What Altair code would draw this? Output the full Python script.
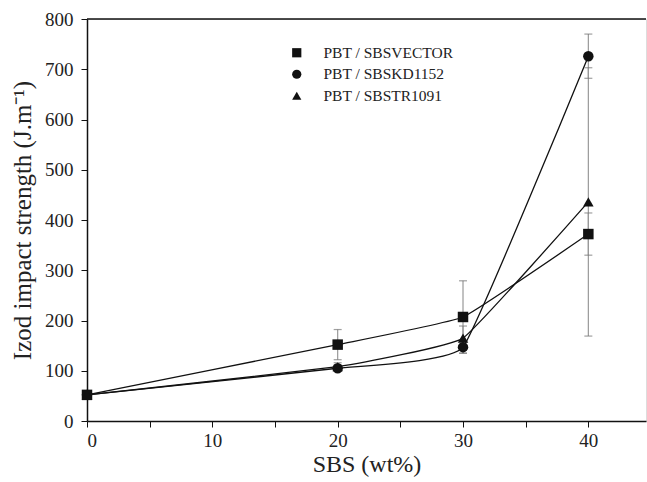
import altair as alt
import pandas as pd

x_vals = [0, 20, 30, 40]
series_names = ["PBT / SBSVECTOR", "PBT / SBSKD1152", "PBT / SBSTR1091"]
vector_vals = [52, 152, 207, 372]
vector_err = [4, 30, 72, 42]
kd_vals = [52, 105, 147, 726]
kd_err = [3, 6, 12, 44]
tr_vals = [52, 108, 165, 436]
tr_err = [3, 8, 24, 267]

rows = []
for name, vals, errs in zip(series_names, [vector_vals, kd_vals, tr_vals], [vector_err, kd_err, tr_err]):
    for x, v, e in zip(x_vals, vals, errs):
        rows.append({"x": x, "y": v, "lo": v - e, "hi": v + e, "series": name})
df = pd.DataFrame(rows)

FONT = "Liberation Serif"
xscale = alt.Scale(domain=[0, 44.6], nice=False, zero=False)
yscale = alt.Scale(domain=[0, 800], nice=False)

base = alt.Chart(df)

xaxis = alt.Axis(values=[0, 5, 10, 15, 20, 25, 30, 35, 40],
                 labelExpr="datum.value % 10 == 0 ? datum.label : ''",
                 title="SBS (wt%)", grid=False, tickSize=6, labelPadding=4,
                 labelFont=FONT, labelFontSize=19, titleFont=FONT, titleFontSize=24,
                 titleFontWeight="normal", titlePadding=2, domainColor="#111",
                 tickColor="#111", labelColor="#222", titleColor="#222", domainWidth=1.5)
yaxis = alt.Axis(values=list(range(0, 801, 100)), title="Izod impact strength (J.m⁻¹)",
                 grid=False, tickSize=6, labelPadding=8,
                 labelFont=FONT, labelFontSize=19, titleFont=FONT, titleFontSize=25,
                 titleFontWeight="normal", titlePadding=9, domainColor="#111",
                 tickColor="#111", labelColor="#222", titleColor="#222", domainWidth=1.5)

lines = base.mark_line(interpolate="cardinal", tension=0.7, color="#111", strokeWidth=1.3).encode(
    x=alt.X("x:Q", scale=xscale, axis=xaxis),
    y=alt.Y("y:Q", scale=yscale, axis=yaxis),
    detail="series:N",
)

err = base.mark_rule(color="#999", strokeWidth=1.2).encode(
    x="x:Q", y="lo:Q", y2="hi:Q")
cap_lo = base.mark_tick(orient="horizontal", color="#777", size=8, thickness=1.2).encode(
    x="x:Q", y="lo:Q")
cap_hi = base.mark_tick(orient="horizontal", color="#777", size=8, thickness=1.2).encode(
    x="x:Q", y="hi:Q")

points = base.mark_point(filled=True, opacity=1, color="#111").encode(
    x="x:Q", y="y:Q",
    shape=alt.Shape("series:N",
                    scale=alt.Scale(domain=series_names, range=["square", "circle", "triangle-up"]),
                    legend=alt.Legend(title=None, orient="none", legendX=202, legendY=26,
                                      labelFont=FONT, labelFontSize=15.5, labelColor="#222",
                                      symbolFillColor="#111", symbolStrokeColor="#111",
                                      symbolSize=85, rowPadding=4.5, labelOffset=19,
                                      padding=0)),
    size=alt.value(110),
)

top = alt.Chart(pd.DataFrame({"a": [0]})).mark_rule(color="#111", strokeWidth=1.5).encode(
    x=alt.value(0), x2=alt.value(559), y=alt.value(0))

chart = alt.layer(lines, err, cap_lo, cap_hi, points, top).properties(
    width=559, height=402,
    autosize=alt.AutoSizeParams(type="none"),
    padding={"left": 87, "top": 19, "right": 1, "bottom": 61},
).configure_view(stroke=None).configure(background="white")

chart.save("out.html", embed_options={"renderer": "svg", "actions": False})
